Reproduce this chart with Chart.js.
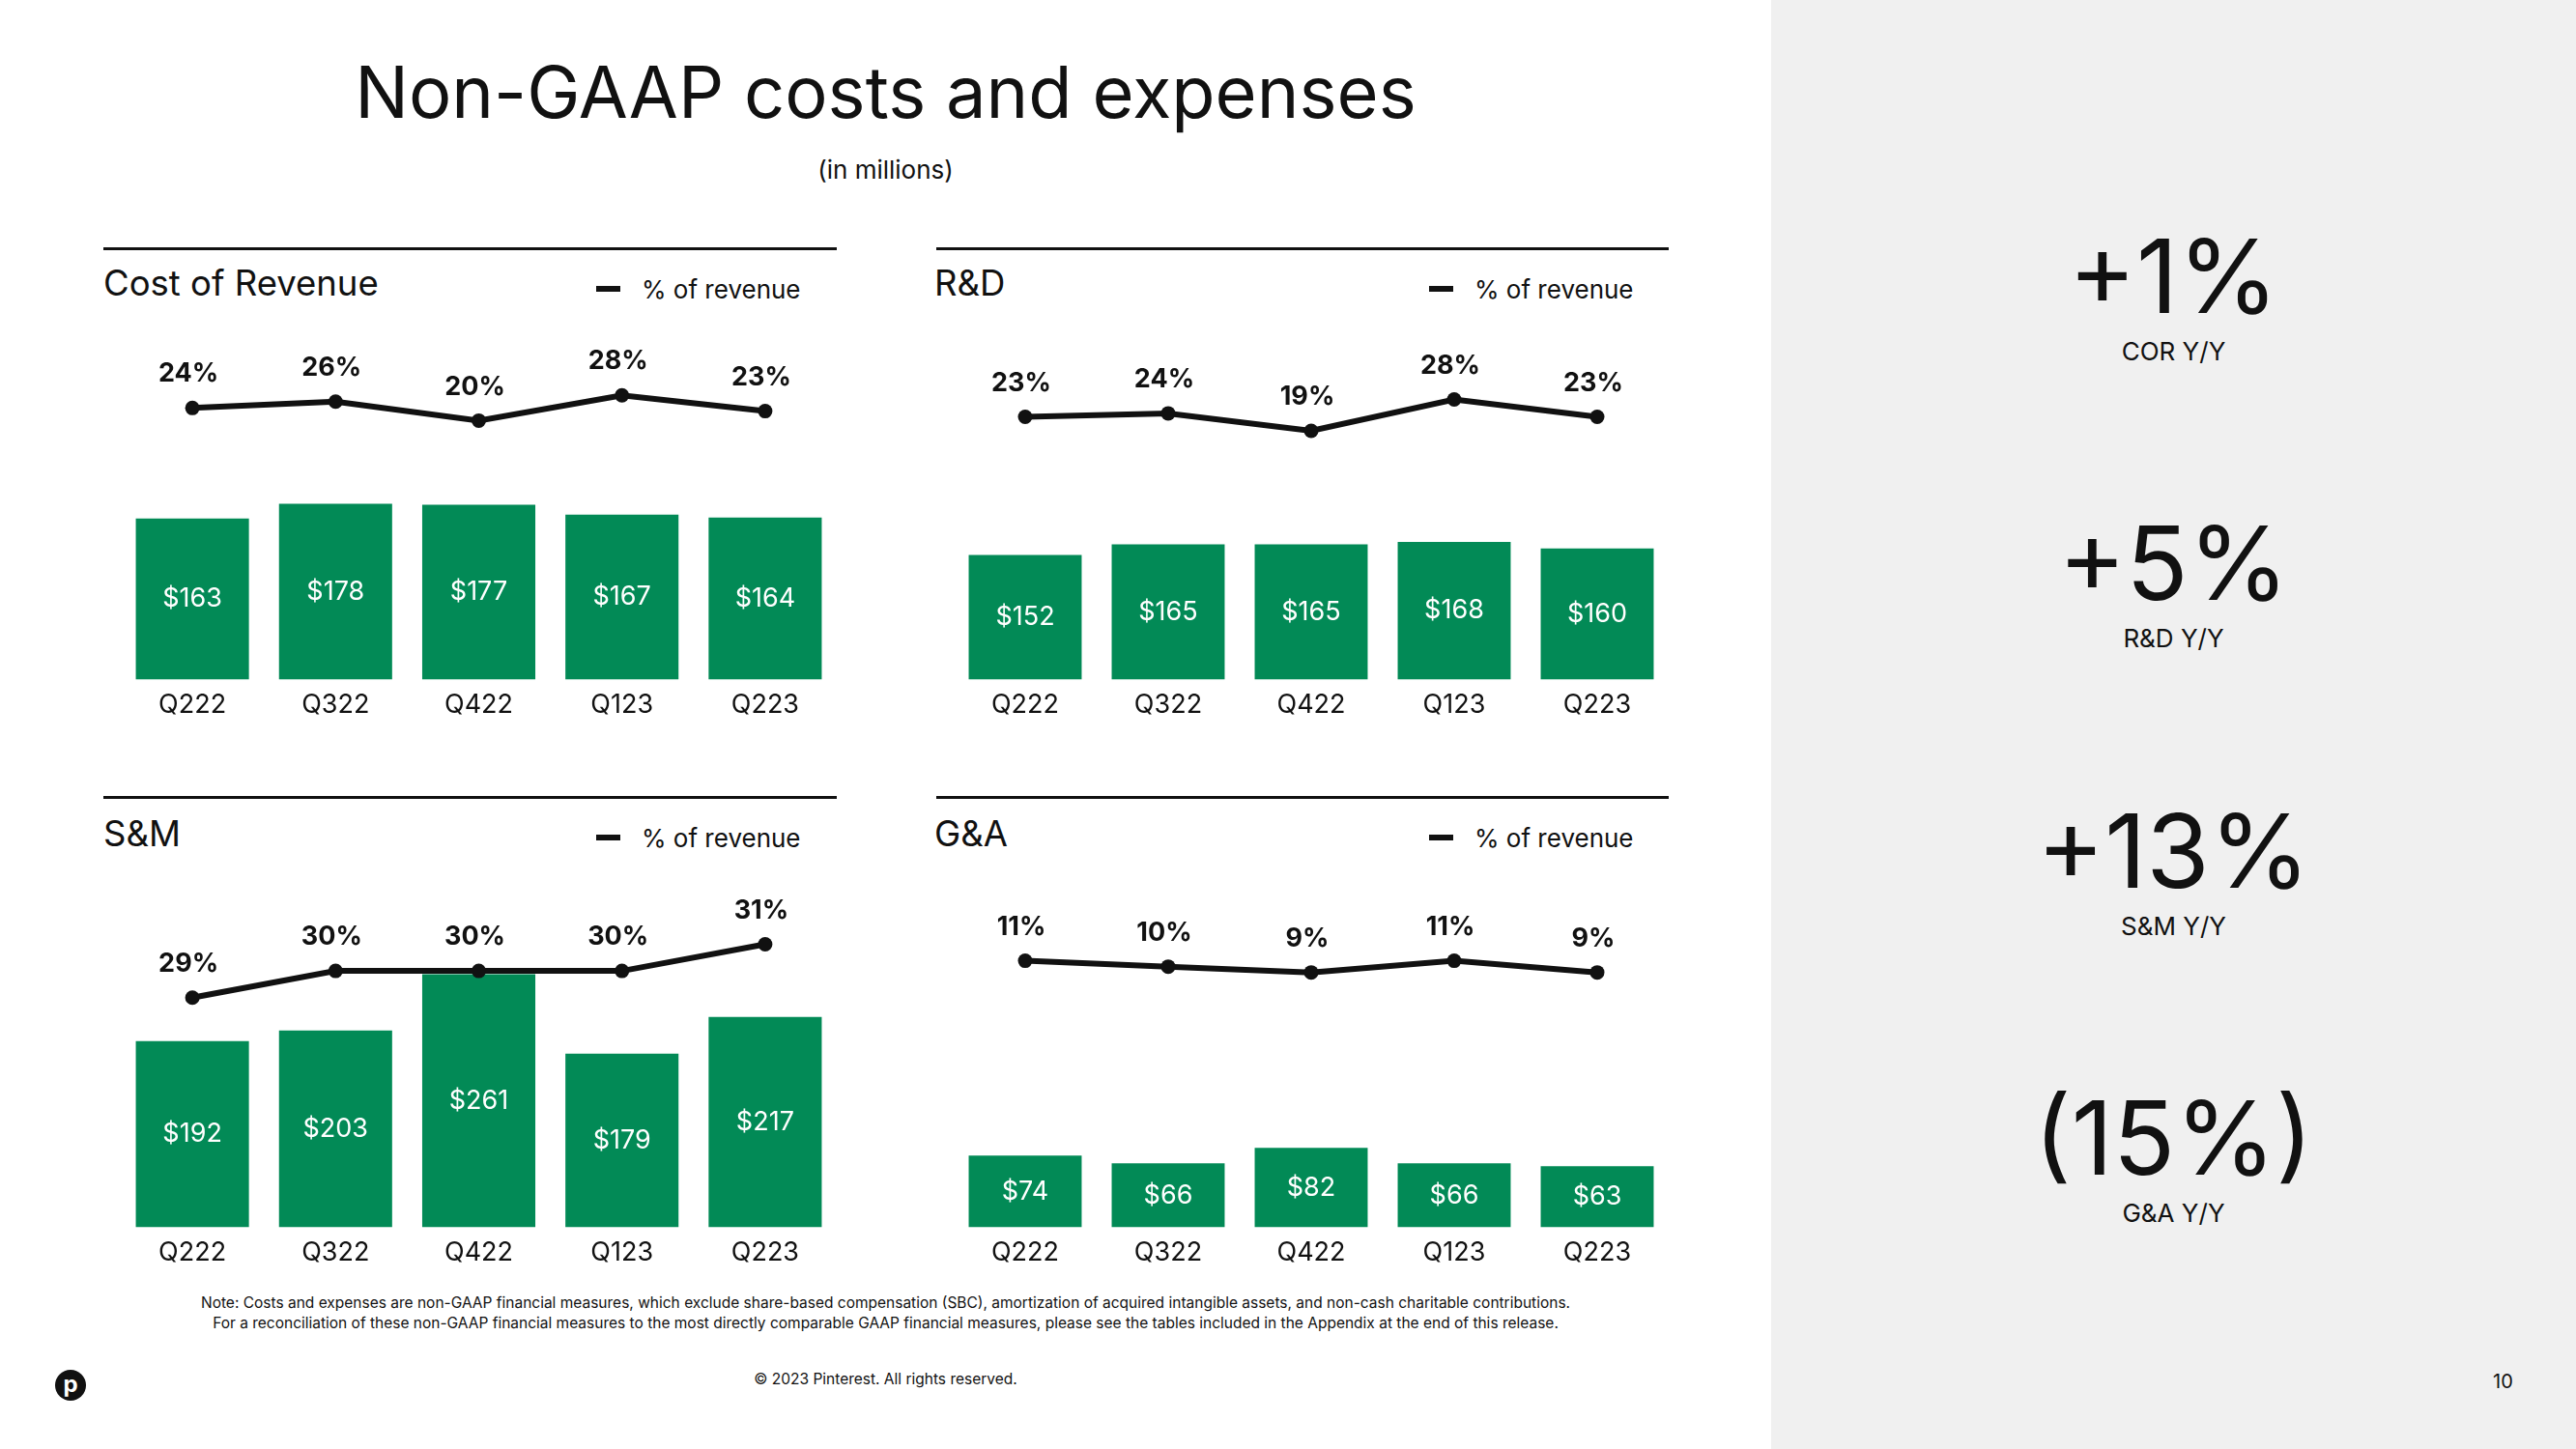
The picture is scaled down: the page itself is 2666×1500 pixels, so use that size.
<!DOCTYPE html>
<html>
<head>
<meta charset="utf-8">
<script src="https://cdn.jsdelivr.net/npm/chart.js@4.4.0/dist/chart.umd.min.js"></script>
<style>
body{margin:0;width:2666px;height:1500px;background:#fff;font-family:Inter,"Noto Sans",sans-serif;color:#111;position:relative;overflow:hidden}
.abs{position:absolute}
.side{left:1833px;top:0;width:833px;height:1500px;background:#f0f0f0}
.title{left:0;width:1833px;top:45px;text-align:center;font-size:74px;line-height:100px}
.sub{left:0;width:1833px;top:160px;text-align:center;font-size:26px}
.rule{height:3px;background:#111}
.ptitle{font-size:36.5px;line-height:40px}
.leg{font-size:26px;line-height:30px}
.dash{width:25px;height:6px;background:#111}
.box{position:absolute}
.big{width:833px;left:1833px;text-align:center;font-size:106px;line-height:120px}
.cap{width:833px;left:1833px;text-align:center;font-size:26px;line-height:30px}
.note{left:0;width:1833px;text-align:center;font-size:15.5px;line-height:21px}
</style>
</head>
<body>
<div class="abs side"></div>
<div class="abs title">Non-GAAP costs and expenses</div>
<div class="abs sub">(in millions)</div>

<div class="abs rule" style="left:107px;top:256px;width:759px"></div>
<div class="abs rule" style="left:969px;top:256px;width:758px"></div>
<div class="abs rule" style="left:107px;top:824px;width:759px"></div>
<div class="abs rule" style="left:969px;top:824px;width:758px"></div>

<div class="abs ptitle" style="left:107px;top:273px">Cost of Revenue</div>
<div class="abs ptitle" style="left:967px;top:273px">R&amp;D</div>
<div class="abs ptitle" style="left:107px;top:843px">S&amp;M</div>
<div class="abs ptitle" style="left:967px;top:843px">G&amp;A</div>

<div class="abs dash" style="left:617px;top:296px"></div>
<div class="abs leg" style="left:664px;top:285px">% of revenue</div>
<div class="abs dash" style="left:1479px;top:296px"></div>
<div class="abs leg" style="left:1526px;top:285px">% of revenue</div>
<div class="abs dash" style="left:617px;top:864px"></div>
<div class="abs leg" style="left:664px;top:853px">% of revenue</div>
<div class="abs dash" style="left:1479px;top:864px"></div>
<div class="abs leg" style="left:1526px;top:853px">% of revenue</div>

<div class="box" style="left:125px;top:330px;width:741px;height:426px"><canvas id="corChart"></canvas></div>
<div class="box" style="left:987px;top:330px;width:740px;height:426px"><canvas id="rdChart"></canvas></div>
<div class="box" style="left:125px;top:900px;width:741px;height:423px"><canvas id="smChart"></canvas></div>
<div class="box" style="left:987px;top:900px;width:740px;height:423px"><canvas id="gaChart"></canvas></div>

<div class="abs big" style="top:226px">+1%</div>
<div class="abs cap" style="top:349px">COR Y/Y</div>
<div class="abs big" style="top:523px">+5%</div>
<div class="abs cap" style="top:646px">R&amp;D Y/Y</div>
<div class="abs big" style="top:821px">+13%</div>
<div class="abs cap" style="top:944px">S&amp;M Y/Y</div>
<div class="abs big" style="top:1118px">(15%)</div>
<div class="abs cap" style="top:1241px">G&amp;A Y/Y</div>

<div class="abs note" style="top:1338px">Note: Costs and expenses are non-GAAP financial measures, which exclude share-based compensation (SBC), amortization of acquired intangible assets, and non-cash charitable contributions.<br>For a reconciliation of these non-GAAP financial measures to the most directly comparable GAAP financial measures, please see the tables included in the Appendix at the end of this release.</div>
<div class="abs note" style="top:1417px">© 2023 Pinterest. All rights reserved.</div>
<div class="abs" style="left:57px;top:1418px;width:32px;height:32px;border-radius:50%;background:#111;color:#fff;font-weight:700;font-size:24px;line-height:30px;text-align:center">p</div>
<div class="abs" style="left:2580px;top:1418px;font-size:20px">10</div>

<script>
// data
const quarters = ["Q222", "Q322", "Q422", "Q123", "Q223"];
const corCost = [163, 178, 177, 167, 164];
const corPct = [24, 26, 20, 28, 23];
const rdCost = [152, 165, 165, 168, 160];
const rdPct = [23, 24, 19, 28, 23];
const smCost = [192, 203, 261, 179, 217];
const smPct = [29, 30, 30, 30, 31];
const gaCost = [74, 66, 82, 66, 63];
const gaPct = [11, 10, 9, 11, 9];

const green = "#028a56";
Chart.defaults.font.family = "Inter";
Chart.defaults.color = "#111";

// labels on bars and points
const valueLabels = {
  id: "valueLabels",
  afterDatasetsDraw(chart) {
    const ctx = chart.ctx;
    const line = chart.getDatasetMeta(0);
    const bars = chart.getDatasetMeta(1);
    ctx.save();
    ctx.textAlign = "center";
    ctx.textBaseline = "middle";
    ctx.fillStyle = "#fff";
    ctx.font = "27px Inter";
    bars.data.forEach((b, i) => {
      ctx.fillText("$" + chart.data.datasets[1].data[i], b.x, (b.y + b.base) / 2);
    });
    ctx.fillStyle = "#111";
    ctx.font = "bold 27px Inter";
    line.data.forEach((p, i) => {
      ctx.fillText(chart.data.datasets[0].data[i] + "%", p.x - 4, p.y - 35);
    });
    ctx.restore();
  }
};

function makeChart(id, cost, pct, barMax, pctMin, pctMax) {
  return new Chart(document.getElementById(id), {
    type: "bar",
    data: {
      labels: quarters,
      datasets: [{
        type: "line",
        label: "% of revenue",
        data: pct,
        yAxisID: "y2",
        borderColor: "#111",
        backgroundColor: "#111",
        borderWidth: 6,
        pointRadius: 7.5,
        pointBorderWidth: 0,
        pointHoverRadius: 7.5,
        clip: false,
        order: 0
      }, {
        label: "Cost",
        data: cost,
        backgroundColor: green,
        barPercentage: 0.79,
        categoryPercentage: 1,
        order: 1
      }]
    },
    options: {
      responsive: true,
      maintainAspectRatio: false,
      animation: false,
      layout: { padding: 0, autoPadding: false },
      plugins: { legend: { display: false }, tooltip: { enabled: false } },
      scales: {
        x: {
          grid: { display: false, drawTicks: false },
          border: { display: false },
          ticks: { padding: 10, font: { size: 27 }, color: "#111" }
        },
        y: { display: false, min: 0, max: barMax },
        y2: { display: false, min: pctMin, max: pctMax }
      }
    },
    plugins: [valueLabels]
  });
}

makeChart("corChart", corCost, corPct, 365, -62.2, 52.3);
makeChart("rdChart", rdCost, rdPct, 440, -52.3, 51.1);
makeChart("smChart", smCost, smPct, 369, 20.4, 33.8);
makeChart("gaChart", gaCost, gaPct, 369, -34.8, 26.7);
</script>
</body>
</html>
